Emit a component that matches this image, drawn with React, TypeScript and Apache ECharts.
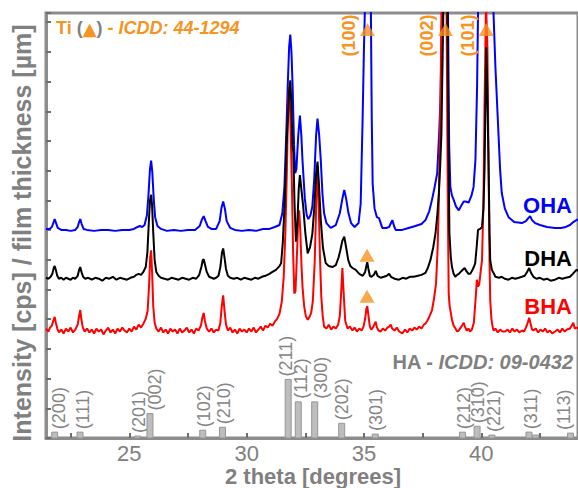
import React, { useEffect, useRef } from 'react';
import * as echarts from 'echarts';

// ---- Data (2 theta in degrees, intensity in arbitrary stacked units) ----
const OHA: [number, number][] = [
  [21.45, 214], [21.6, 214], [21.7, 216], [21.76, 220], [21.82, 224], [21.88, 220], [21.95, 215], [22.1, 213], [22.3, 213], [22.5, 212],
  [22.7, 213], [22.8, 216], [22.86, 221], [22.91, 224], [22.97, 219], [23.05, 214], [23.2, 213], [23.5, 212], [23.8, 213], [24.1, 213],
  [24.4, 212], [24.7, 213], [25.0, 213], [25.2, 214], [25.35, 216], [25.45, 217], [25.55, 216], [25.65, 218], [25.75, 228], [25.82, 250],
  [25.88, 275], [25.93, 284], [25.98, 272], [26.04, 245], [26.1, 226], [26.2, 217], [26.35, 214], [26.6, 212], [26.9, 213], [27.2, 212],
  [27.5, 213], [27.8, 213], [28.0, 217], [28.1, 224], [28.17, 227], [28.25, 222], [28.35, 216], [28.5, 214], [28.7, 214], [28.85, 222],
  [28.93, 236], [29.0, 242], [29.07, 235], [29.15, 222], [29.3, 215], [29.5, 213], [29.8, 212], [30.1, 213], [30.4, 212], [30.7, 214],
  [30.97, 214], [31.2, 216], [31.4, 218], [31.52, 230], [31.61, 257], [31.7, 320], [31.75, 360], [31.81, 400], [31.86, 413], [31.91, 395],
  [31.96, 359], [32.02, 300], [32.07, 271], [32.12, 275], [32.2, 310], [32.27, 330], [32.33, 310], [32.38, 284], [32.48, 245], [32.56, 228],
  [32.63, 224], [32.72, 228], [32.8, 237], [32.88, 265], [32.96, 310], [33.02, 327], [33.09, 310], [33.16, 284], [33.23, 250], [33.3, 230],
  [33.4, 220], [33.58, 215], [33.8, 218], [33.97, 230], [34.08, 245], [34.16, 254], [34.24, 245], [34.34, 230], [34.45, 220], [34.6, 216],
  [34.77, 220], [34.86, 240], [34.94, 325], [35.0, 400], [35.05, 450], [35.17, 700], [35.29, 450], [35.33, 330], [35.37, 260], [35.45, 235],
  [35.55, 226], [35.64, 225], [35.78, 215], [35.95, 215], [36.07, 216], [36.15, 220], [36.21, 223], [36.28, 217], [36.35, 213], [36.63, 213],
  [36.9, 215], [37.19, 217], [37.45, 219], [37.62, 223], [37.78, 232], [37.9, 244], [38.02, 258], [38.12, 271], [38.2, 310], [38.26, 346],
  [38.33, 435], [38.45, 900], [38.58, 435], [38.63, 300], [38.68, 257], [38.75, 248], [38.82, 244], [38.92, 237], [39.04, 233], [39.15, 238],
  [39.25, 242], [39.32, 242], [39.46, 241], [39.58, 248], [39.67, 257], [39.75, 285], [39.82, 360], [39.86, 435], [40.19, 900], [40.52, 435],
  [40.6, 380], [40.73, 312], [40.8, 275], [40.87, 251], [41.0, 235], [41.16, 226], [41.4, 221], [41.73, 220], [41.9, 222], [42.0, 225],
  [42.08, 227], [42.16, 223], [42.29, 220], [42.5, 218], [42.8, 216], [43.14, 215], [43.4, 215], [43.6, 216], [43.78, 218], [43.92, 221],
  [44.05, 223], [44.15, 224],
];

const DHA: [number, number][] = [
  [21.45, 164], [21.55, 163], [21.65, 165], [21.72, 168], [21.78, 174], [21.82, 176], [21.87, 172], [21.93, 166], [22.0, 163], [22.1, 164],
  [22.2, 162], [22.3, 164], [22.4, 163], [22.5, 162], [22.6, 164], [22.7, 163], [22.8, 166], [22.86, 172], [22.91, 175], [22.96, 170],
  [23.03, 165], [23.12, 163], [23.25, 164], [23.4, 162], [23.55, 164], [23.7, 163], [23.85, 161], [24.0, 164], [24.15, 163], [24.3, 165],
  [24.45, 162], [24.6, 164], [24.75, 163], [24.9, 162], [25.05, 164], [25.2, 165], [25.3, 167], [25.4, 168], [25.5, 167], [25.6, 170],
  [25.7, 175], [25.77, 190], [25.83, 220], [25.88, 243], [25.93, 249], [25.97, 238], [26.02, 210], [26.08, 182], [26.15, 170], [26.25, 166],
  [26.35, 164], [26.5, 163], [26.65, 162], [26.8, 164], [26.95, 163], [27.1, 162], [27.25, 164], [27.4, 163], [27.55, 162], [27.7, 164],
  [27.85, 163], [27.98, 167], [28.07, 175], [28.13, 182], [28.17, 183], [28.22, 178], [28.3, 170], [28.4, 165], [28.5, 164], [28.6, 163],
  [28.7, 164], [28.8, 166], [28.88, 175], [28.95, 190], [29.0, 194], [29.05, 186], [29.12, 173], [29.2, 166], [29.3, 164], [29.45, 163],
  [29.6, 164], [29.75, 162], [29.9, 164], [30.05, 163], [30.2, 162], [30.35, 164], [30.5, 163], [30.65, 165], [30.8, 166], [30.97, 168],
  [31.1, 170], [31.25, 172], [31.4, 176], [31.47, 179], [31.54, 200], [31.62, 240], [31.7, 300], [31.75, 325], [31.81, 355], [31.86, 366],
  [31.91, 340], [31.95, 300], [31.99, 292], [32.04, 240], [32.1, 201], [32.16, 220], [32.22, 255], [32.27, 269], [32.33, 255], [32.41, 237],
  [32.5, 210], [32.6, 189], [32.7, 195], [32.8, 209], [32.88, 235], [32.96, 270], [33.02, 283], [33.08, 260], [33.16, 223], [33.25, 195],
  [33.37, 179], [33.5, 176], [33.65, 175], [33.8, 177], [33.92, 185], [33.99, 192], [34.08, 202], [34.16, 206], [34.24, 195], [34.33, 182],
  [34.42, 176], [34.51, 174], [34.65, 172], [34.8, 168], [34.95, 166], [35.05, 170], [35.1, 176], [35.14, 180], [35.19, 173], [35.25, 166],
  [35.32, 165], [35.42, 167], [35.5, 171], [35.58, 166], [35.71, 164], [35.85, 165], [35.97, 166], [36.07, 168], [36.15, 165], [36.3, 163],
  [36.49, 162], [36.65, 164], [36.8, 163], [36.95, 165], [37.12, 165], [37.3, 166], [37.45, 167], [37.62, 169], [37.72, 174], [37.83, 182],
  [37.95, 195], [38.05, 210], [38.13, 230], [38.19, 250], [38.25, 280], [38.3, 312], [38.38, 435], [38.47, 900], [38.56, 435], [38.6, 300],
  [38.64, 210], [38.7, 185], [38.75, 175], [38.82, 168], [38.89, 165], [38.97, 167], [39.04, 168], [39.12, 170], [39.2, 172], [39.29, 174],
  [39.36, 171], [39.45, 168], [39.53, 168], [39.62, 172], [39.7, 176], [39.74, 179], [39.8, 195], [39.86, 213], [39.95, 214], [40.03, 216],
  [40.09, 235], [40.14, 278], [40.18, 350], [40.21, 400], [40.25, 360], [40.31, 278], [40.35, 210], [40.38, 182], [40.45, 172], [40.52, 169],
  [40.6, 165], [40.75, 164], [40.87, 165], [41.0, 163], [41.16, 162], [41.3, 164], [41.45, 163], [41.6, 164], [41.73, 165], [41.85, 166],
  [41.95, 170], [42.04, 174], [42.12, 169], [42.22, 165], [42.35, 163], [42.5, 164], [42.65, 162], [42.8, 163], [42.95, 161], [43.14, 162],
  [43.3, 164], [43.45, 163], [43.6, 164], [43.78, 165], [43.9, 168], [44.05, 172], [44.15, 171],
];

const BHA: [number, number][] = [
  [21.45, 112], [21.55, 109], [21.62, 113], [21.7, 115], [21.76, 120], [21.82, 124], [21.87, 118], [21.93, 112], [22.0, 108], [22.1, 111],
  [22.2, 107], [22.3, 112], [22.4, 109], [22.5, 113], [22.6, 108], [22.7, 111], [22.8, 116], [22.86, 125], [22.91, 131], [22.96, 121],
  [23.02, 113], [23.1, 109], [23.2, 112], [23.3, 108], [23.4, 111], [23.5, 107], [23.6, 112], [23.7, 109], [23.8, 111], [23.9, 106],
  [24.0, 110], [24.1, 113], [24.2, 108], [24.3, 111], [24.4, 107], [24.5, 112], [24.6, 109], [24.7, 113], [24.8, 110], [24.9, 108],
  [25.0, 112], [25.1, 109], [25.2, 114], [25.3, 111], [25.4, 116], [25.5, 113], [25.6, 117], [25.7, 122], [25.78, 130], [25.84, 155],
  [25.89, 185], [25.93, 192], [25.97, 170], [26.02, 135], [26.08, 118], [26.15, 112], [26.25, 109], [26.35, 113], [26.45, 108], [26.55, 111],
  [26.65, 107], [26.75, 112], [26.85, 109], [26.95, 111], [27.05, 107], [27.15, 112], [27.25, 108], [27.35, 110], [27.45, 113], [27.55, 108],
  [27.65, 111], [27.75, 107], [27.85, 112], [27.95, 110], [28.05, 115], [28.12, 124], [28.17, 128], [28.22, 120], [28.3, 112], [28.4, 109],
  [28.5, 112], [28.6, 108], [28.7, 111], [28.8, 110], [28.88, 118], [28.94, 135], [29.0, 146], [29.05, 132], [29.12, 116], [29.2, 110],
  [29.3, 113], [29.4, 108], [29.5, 111], [29.6, 107], [29.7, 112], [29.8, 109], [29.9, 111], [30.0, 108], [30.1, 112], [30.2, 109],
  [30.3, 113], [30.4, 108], [30.5, 111], [30.6, 114], [30.7, 110], [30.8, 115], [30.9, 113], [31.0, 117], [31.1, 115], [31.2, 119],
  [31.3, 122], [31.4, 127], [31.5, 140], [31.58, 165], [31.65, 210], [31.72, 280], [31.77, 345], [31.82, 360], [31.87, 320], [31.93, 257],
  [31.98, 190], [32.03, 148], [32.08, 150], [32.14, 185], [32.2, 225], [32.24, 233], [32.29, 210], [32.34, 175], [32.38, 155], [32.45, 135],
  [32.52, 125], [32.6, 121], [32.68, 124], [32.75, 128], [32.82, 140], [32.9, 180], [32.95, 225], [33.0, 272], [33.03, 278], [33.07, 240],
  [33.12, 189], [33.18, 145], [33.24, 125], [33.3, 114], [33.4, 112], [33.5, 116], [33.6, 111], [33.7, 114], [33.8, 112], [33.9, 116],
  [33.97, 125], [34.03, 150], [34.08, 174], [34.13, 150], [34.2, 120], [34.3, 112], [34.4, 114], [34.51, 110], [34.6, 113], [34.7, 109],
  [34.8, 112], [34.9, 110], [34.98, 114], [35.05, 122], [35.1, 132], [35.14, 135], [35.19, 125], [35.25, 114], [35.31, 111], [35.38, 113],
  [35.44, 116], [35.5, 119], [35.55, 113], [35.62, 110], [35.71, 109], [35.8, 112], [35.9, 110], [36.0, 113], [36.07, 114], [36.14, 116],
  [36.2, 112], [36.3, 110], [36.4, 113], [36.5, 109], [36.63, 107], [36.75, 111], [36.85, 108], [36.95, 112], [37.05, 110], [37.15, 113],
  [37.25, 111], [37.35, 114], [37.45, 112], [37.55, 116], [37.62, 117], [37.7, 120], [37.8, 125], [37.9, 131], [37.98, 142], [38.07, 158],
  [38.14, 195], [38.19, 244], [38.26, 346], [38.3, 435], [38.4, 900], [38.52, 435], [38.57, 250], [38.61, 148], [38.65, 135], [38.7, 128],
  [38.75, 121], [38.82, 115], [38.9, 112], [38.97, 109], [39.04, 110], [39.12, 113], [39.2, 116], [39.25, 118], [39.3, 114], [39.38, 110],
  [39.45, 112], [39.52, 109], [39.6, 111], [39.68, 118], [39.75, 140], [39.81, 162], [39.86, 155], [39.91, 157], [39.97, 170], [40.03, 182],
  [40.09, 240], [40.14, 346], [40.2, 445], [40.26, 400], [40.31, 278], [40.35, 180], [40.38, 141], [40.43, 122], [40.48, 114], [40.52, 110],
  [40.6, 112], [40.7, 108], [40.8, 111], [40.9, 109], [41.02, 109], [41.12, 111], [41.22, 108], [41.32, 112], [41.42, 109], [41.52, 111],
  [41.62, 108], [41.73, 110], [41.82, 109], [41.9, 113], [41.98, 118], [42.04, 123], [42.1, 117], [42.16, 111], [42.22, 110], [42.32, 112],
  [42.42, 108], [42.52, 111], [42.62, 109], [42.72, 112], [42.82, 108], [42.92, 110], [43.02, 107], [43.14, 109], [43.25, 111], [43.35, 108],
  [43.45, 112], [43.55, 109], [43.65, 111], [43.78, 112], [43.85, 115], [43.92, 118], [43.98, 112], [44.05, 113], [44.15, 112],
];

// HA reference pattern (ICDD 09-0432)
const HA_HKL = ['(200)', '(111)', '(201)', '(002)', '(102)', '(210)', '(211)', '(112)', '(300)', '(202)', '(301)', '(212)', '(310)', '(221)', '(311)', '', '(113)'];
const HA_POS = [21.82, 22.9, 25.35, 25.88, 28.13, 28.97, 31.77, 32.2, 32.9, 34.05, 35.48, 39.2, 39.82, 40.45, 42.03, 42.32, 43.8];
const HA_INT = [6, 6, 2, 25, 8, 11, 60, 37, 37, 15, 4, 6, 12, 3, 6, 3, 5];

// Ti reference peaks (ICDD 44-1294)
const TI_HKL = ['(100)', '(002)', '(101)'];
const TI_POS = [35.15, 38.47, 40.21];
const TI_TOP_LEVEL = 418;
const TI_FILM_MARKS: [number, number][] = [[35.13, 187], [35.13, 145]];

const X_TICKS = [22.5, 25, 27.5, 30, 32.5, 35, 37.5, 40, 42.5];
const X_LABELS = [25, 30, 35, 40];

const GRAY = '#808080';
const ORANGE = '#f7931e';
const FONT = '"Liberation Sans", Arial, Helvetica, sans-serif';
const HA_LABEL_DX = [4, 3, 1, 5, 1, 2, -2, 3, 6, 0, 1, 1, 1, 2, 2, 0, -6];

export default function App() {
  const ref = useRef<HTMLDivElement>(null);

  useEffect(() => {
    if (!ref.current) return;
    const chart = echarts.init(ref.current, undefined, { renderer: 'svg' });

    const option: any = {
      animation: false,
      backgroundColor: '#ffffff',
      grid: { left: 46, top: 13, right: -2, bottom: 50, show: true, borderColor: '#8c8c8c', borderWidth: 3 },
      xAxis: {
        type: 'value',
        min: 21.45,
        max: 44.12,
        axisLine: { show: true, lineStyle: { color: '#8c8c8c', width: 3 } },
        axisTick: { show: true, inside: true, length: 5, customValues: X_TICKS, lineStyle: { color: '#6e6e6e', width: 2 } },
        axisLabel: { show: true, customValues: X_LABELS, color: GRAY, fontSize: 22, fontFamily: FONT, margin: 4 },
        splitLine: { show: false },
      },
      yAxis: {
        type: 'value',
        min: 0,
        max: 435,
        interval: 30.4,
        axisLine: { show: true, lineStyle: { color: '#8c8c8c', width: 3 } },
        axisTick: { show: true, inside: true, length: 5, lineStyle: { color: '#6e6e6e', width: 2 } },
        axisLabel: { show: false },
        splitLine: { show: false },
      },
      series: [
        { name: 'OHA', type: 'line', data: OHA, showSymbol: false, lineStyle: { color: '#0000ff', width: 2 }, itemStyle: { color: '#0000ff' }, z: 2 },
        { name: 'BHA', type: 'line', data: BHA, showSymbol: false, lineStyle: { color: '#ff0000', width: 2 }, itemStyle: { color: '#ff0000' }, z: 3 },
        { name: 'DHA', type: 'line', data: DHA, showSymbol: false, lineStyle: { color: '#000000', width: 2 }, itemStyle: { color: '#000000' }, z: 4 },
        {
          name: 'HA ICDD 09-0432',
          type: 'custom',
          data: HA_POS.map((p, i) => [p, HA_INT[i]]),
          encode: { x: 0, y: 1 },
          z: 5,
          renderItem: (params: any, api: any) => {
            const i = params.dataIndex;
            const base = api.coord([api.value(0), 0]);
            const top = api.coord([api.value(0), api.value(1)]);
            const w = 6;
            const children: any[] = [
              {
                type: 'rect',
                shape: { x: base[0] - w / 2, y: top[1], width: w, height: base[1] - top[1] },
                style: { fill: '#bdbdbd', stroke: '#969696', lineWidth: 1 },
              },
            ];
            if (HA_HKL[i]) {
              children.push({
                type: 'text',
                x: base[0] + HA_LABEL_DX[i],
                y: top[1] - 3,
                rotation: Math.PI / 2,
                style: { text: HA_HKL[i], fill: '#858585', fontSize: 18, fontFamily: FONT, align: 'left', verticalAlign: 'middle' },
              });
            }
            return { type: 'group', children };
          },
        },
        {
          name: 'Ti ICDD 44-1294',
          type: 'custom',
          data: TI_POS.map((p) => [p, TI_TOP_LEVEL]),
          encode: { x: 0, y: 1 },
          z: 6,
          renderItem: (params: any, api: any) => {
            const i = params.dataIndex;
            const p = api.coord([api.value(0), api.value(1)]);
            return {
              type: 'text',
              x: p[0] - 18,
              y: p[1] + 6,
              rotation: Math.PI / 2,
              style: { text: TI_HKL[i], fill: ORANGE, fontSize: 18, fontWeight: 'bold', fontFamily: FONT, align: 'center', verticalAlign: 'middle' },
            };
          },
        },
        {
          name: 'Ti peaks',
          type: 'scatter',
          data: [...TI_POS.map((p) => [p, TI_TOP_LEVEL]), ...TI_FILM_MARKS],
          symbol: 'triangle',
          symbolSize: [15, 13],
          itemStyle: { color: ORANGE },
          z: 7,
        },
      ],
      graphic: [
        {
          type: 'text',
          x: 22,
          y: 233,
          rotation: Math.PI / 2,
          style: { text: 'Intensity [cps] / film thickness [µm]', fill: GRAY, fontSize: 25, fontWeight: 'bold', fontFamily: FONT, align: 'center', verticalAlign: 'middle' },
        },
        {
          type: 'text',
          x: 313,
          y: 476,
          style: { text: '2 theta [degrees]', fill: GRAY, fontSize: 22, fontWeight: 'bold', fontFamily: FONT, align: 'center', verticalAlign: 'middle' },
        },
        {
          type: 'text',
          x: 56,
          y: 28,
          style: {
            text: '{a|Ti }{g|(}{t|▲}{g|)}{b| - ICDD: 44-1294}',
            verticalAlign: 'middle',
            align: 'left',
            rich: {
              a: { fill: ORANGE, fontSize: 18, fontWeight: 'bold', fontFamily: FONT },
              g: { fill: GRAY, fontSize: 18, fontWeight: 'bold', fontFamily: FONT },
              t: { fill: ORANGE, fontSize: 18, fontFamily: '"DejaVu Sans", sans-serif' },
              b: { fill: ORANGE, fontSize: 18, fontWeight: 'bold', fontStyle: 'italic', fontFamily: FONT },
            },
          },
        },
        {
          type: 'text',
          x: 573,
          y: 362,
          style: {
            text: '{a|HA }{b|- ICDD: 09-0432}',
            verticalAlign: 'middle',
            align: 'right',
            rich: {
              a: { fill: GRAY, fontSize: 20, fontWeight: 'bold', fontFamily: FONT },
              b: { fill: GRAY, fontSize: 20, fontWeight: 'bold', fontStyle: 'italic', fontFamily: FONT },
            },
          },
        },
        { type: 'text', x: 572, y: 205, style: { text: 'OHA', fill: '#0000ff', fontSize: 22, fontWeight: 'bold', fontFamily: FONT, align: 'right', verticalAlign: 'middle' } },
        { type: 'text', x: 572, y: 258, style: { text: 'DHA', fill: '#000000', fontSize: 22, fontWeight: 'bold', fontFamily: FONT, align: 'right', verticalAlign: 'middle' } },
        { type: 'text', x: 572, y: 306, style: { text: 'BHA', fill: '#ff0000', fontSize: 22, fontWeight: 'bold', fontFamily: FONT, align: 'right', verticalAlign: 'middle' } },
      ],
    };

    chart.setOption(option);
    return () => chart.dispose();
  }, []);

  return (
    <div
      ref={ref}
      style={{ position: 'fixed', left: 0, top: 0, width: 578, height: 488, background: '#ffffff' }}
    />
  );
}
